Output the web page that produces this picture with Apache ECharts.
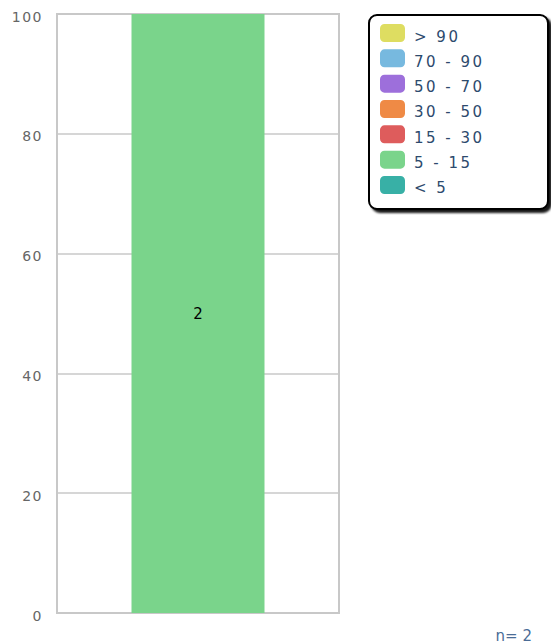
<!DOCTYPE html>
<html>
<head>
<meta charset="utf-8">
<script src="https://cdn.jsdelivr.net/npm/echarts@6/dist/echarts.min.js"></script>
<style>
html,body{margin:0;padding:0;background:#fff;}
#chart{width:551px;height:644px;}
</style>
</head>
<body>
<div id="chart"></div>
<script>
// ---- data ----
var categories = [''];
var binNames = ['< 5', '5 - 15', '15 - 30', '30 - 50', '50 - 70', '70 - 90', '> 90'];
var binCounts = [0, 2, 0, 0, 0, 0, 0];
var binColors = ['#38b0a6', '#7ad48b', '#de5c5c', '#ef8a45', '#9d6fdb', '#77b9df', '#dedd61'];
var yTicks = [0, 20, 40, 60, 80, 100];
var totalN = 2;

var total = binCounts.reduce(function (a, b) { return a + b; }, 0);
var series = binNames.map(function (name, i) {
  return {
    name: name,
    type: 'bar',
    stack: 'all',
    barWidth: 133,
    itemStyle: { color: binColors[i] },
    label: {
      show: binCounts[i] > 0,
      position: 'inside',
      color: '#000',
      fontSize: 15,
      fontFamily: 'DejaVu Sans',
      formatter: function () { return String(binCounts[i]); }
    },
    data: [total ? binCounts[i] / total * 100 : 0]
  };
});

var chart = echarts.init(document.getElementById('chart'), null, { renderer: 'svg' });
chart.setOption({
  animation: false,
  backgroundColor: '#fff',
  grid: {
    left: 57, top: 14, right: 212, bottom: 31,
    show: true, borderColor: '#c8c8c8', borderWidth: 2, backgroundColor: 'transparent'
  },
  xAxis: {
    type: 'category',
    data: categories,
    axisLine: { show: false },
    axisTick: { show: false },
    axisLabel: { show: false }
  },
  yAxis: {
    type: 'value',
    min: yTicks[0],
    max: yTicks[yTicks.length - 1],
    interval: yTicks[1] - yTicks[0],
    axisLine: { show: false },
    axisTick: { show: false },
    axisLabel: { color: '#666', fontSize: 14, fontFamily: 'DejaVu Sans', margin: 14 },
    splitLine: { lineStyle: { color: '#c8c8c8', width: 1.5 } }
  },
  legend: {
    orient: 'vertical',
    left: 380,
    top: 24,
    padding: 0,
    itemWidth: 25,
    itemHeight: 18,
    itemGap: 7.33,
    icon: 'roundRect',
    data: binNames.slice().reverse(),
    selectedMode: false,
    textStyle: { color: '#2d4a6d', fontSize: 15, fontFamily: 'DejaVu Sans', padding: [0, 0, 0, 4] }
  },
  graphic: [
    {
      type: 'rect',
      left: 368, top: 14, z: -10,
      shape: { width: 179, height: 194, r: 8 },
      style: {
        fill: '#fff', stroke: '#000', lineWidth: 2,
        shadowBlur: 2, shadowOffsetX: 3, shadowOffsetY: 3, shadowColor: 'rgba(0,0,0,0.9)'
      }
    },
    {
      type: 'text',
      right: 19, bottom: 1,
      style: { text: 'n= ' + totalN, fill: '#4a6c96', font: '15px "DejaVu Sans"' }
    }
  ],
  series: series
});

function spaceText() {
  var texts = document.querySelectorAll('#chart svg text');
  texts.forEach(function (t) {
    var s = t.textContent;
    if (binNames.indexOf(s) >= 0) {
      t.setAttribute('letter-spacing', '2.5');
      t.style.letterSpacing = '2.5px';
      t.setAttribute('dy', '3.5');
    } else if (yTicks.map(String).indexOf(s) >= 0) {
      t.setAttribute('letter-spacing', '1.5');
      t.style.letterSpacing = '1.5px';
      t.setAttribute('dy', '2.5');
    }
  });
}
spaceText();
chart.on('finished', spaceText);
setTimeout(spaceText, 50);
</script>
</body>
</html>
